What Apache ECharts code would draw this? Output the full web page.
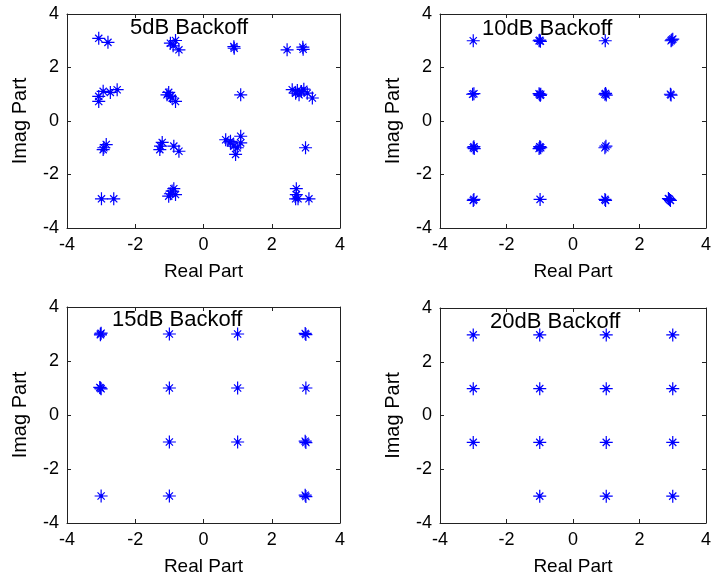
<!DOCTYPE html>
<html>
<head>
<meta charset="utf-8">
<script src="https://cdn.jsdelivr.net/npm/echarts@6/dist/echarts.min.js"></script>
<style>
html,body{margin:0;padding:0;background:#fff;}
#chart{width:714px;height:583px;}
</style>
</head>
<body>
<div id="chart"></div>
<script>
// ---- Data ----
const panelTitles = ['5dB Backoff', '10dB Backoff', '15dB Backoff', '20dB Backoff'];
const tickValues = [-4, -2, 0, 2, 4];
const xAxisName = 'Real Part';
const yAxisName = 'Imag Part';

// 5dB backoff (noisy constellation)
const re5 = [-3.07, -2.80, -0.97, -0.82, -0.89, -0.72, 0.89, 0.90, 2.45, 2.91, 2.92,
  -3.07, -3.07, -2.94, -2.73, -2.53, -1.07, -0.97, -1.02, -0.82, -0.92, 1.09,
  2.60, 2.75, 2.94, 2.80, 3.04, 3.19, 2.70, 2.87,
  -2.92, -2.85, -2.94, -1.26, -1.21, -1.28, -0.87, -0.72,
  0.65, 0.79, 1.09, 0.99, 0.94, 0.79, 0.89, 1.09, 2.99,
  -2.99, -2.63, -0.92, -0.87, -1.02, -0.82, -0.97, 2.72, 2.72, 2.70, 3.09, 2.77];
const im5 = [3.09, 2.94, 2.91, 3.01, 2.81, 2.66, 2.78, 2.72, 2.66, 2.76, 2.68,
  0.92, 0.73, 1.11, 1.07, 1.17, 0.98, 0.92, 1.07, 0.73, 0.86, 0.98,
  1.17, 1.14, 1.19, 0.98, 1.04, 0.86, 1.04, 1.10,
  -1.00, -0.88, -1.07, -0.94, -0.80, -1.07, -0.94, -1.13,
  -0.70, -0.76, -0.57, -1.00, -1.25, -0.82, -0.94, -0.82, -1.00,
  -2.91, -2.91, -2.62, -2.53, -2.81, -2.75, -2.72, -2.53, -2.75, -2.91, -2.91, -2.91];

// 10dB backoff
const re10 = [-3.00, -1.02, -0.98, -1.00, 0.97, 2.97, 3.00, 2.95,
  -2.98, -3.02, -1.00, -0.97, -1.02, -0.98, 0.96, 1.00, 0.98, 2.93, 2.95,
  -2.98, -3.00, -2.97, -1.00, -0.97, -1.02, -0.99, 0.96, 0.99,
  -2.98, -3.00, -0.99, 0.96, 0.98, 2.90, 2.93, 2.87];
const im10 = [3.00, 3.00, 2.98, 3.02, 3.00, 3.03, 3.06, 3.00,
  1.02, 1.00, 0.98, 1.00, 1.02, 0.96, 1.00, 0.97, 1.03, 1.00, 0.97,
  -0.96, -1.00, -1.03, -0.96, -1.00, -1.03, -0.98, -1.00, -0.94,
  -2.93, -2.97, -2.93, -2.93, -2.97, -2.93, -2.97, -2.90];

// 15dB backoff
const re15 = [-3.02, -3.00, -3.02, -1.00, 1.00, 2.98, 3.00,
  -3.02, -3.00, -3.04, -1.00, 1.00, 3.00,
  -1.00, 1.00, 2.98, 3.00,
  -3.00, -1.00, 2.98, 3.00];
const im15 = [3.00, 3.03, 2.97, 3.00, 3.00, 3.02, 2.98,
  1.00, 0.97, 1.02, 1.00, 1.00, 1.00,
  -1.00, -1.00, -0.97, -1.02,
  -3.00, -3.00, -2.97, -3.02];

// 20dB backoff
const re20 = [-3, -1, 1, 3, -3, -1, 1, 3, -3, -1, 1, 3, -1, 1, 3];
const im20 = [3, 3, 3, 3, 1, 1, 1, 1, -1, -1, -1, -1, -3, -3, -3];

const panelRe = [re5, re10, re15, re20];
const panelIm = [im5, im10, im15, im20];

// ---- Layout ----
const grids = [
  {left: 67, top: 14, width: 273, height: 214},
  {left: 440, top: 14, width: 272, height: 214},
  {left: 67, top: 307, width: 273, height: 216},
  {left: 440, top: 308, width: 272, height: 215}
];
const titlePos = [
  {left: 130, top: 17},
  {left: 482, top: 18},
  {left: 112, top: 309},
  {left: 490, top: 311}
];

const FONT = 'Arial, "Liberation Sans", sans-serif';
const axisColor = '#222';
const starPath = 'path://M0,-6.5L0,6.5M-6.5,0L6.5,0M-3.6,-3.6L3.6,3.6M-3.6,3.6L3.6,-3.6M-1.2,-1.2L1.2,-1.2L1.2,1.2L-1.2,1.2Z';

const xAxes = [], yAxes = [], series = [], titles = [];
grids.forEach((g, i) => {
  const base = {
    min: tickValues[0], max: tickValues[tickValues.length - 1], interval: 2,
    gridIndex: i,
    axisLine: {show: true, onZero: false, lineStyle: {color: axisColor, width: 1}},
    axisTick: {show: true, inside: true, length: 4, lineStyle: {color: axisColor}},
    splitLine: {show: false}
  };
  xAxes.push(Object.assign({}, base, {
    type: 'value', position: 'bottom',
    name: xAxisName, nameLocation: 'middle', nameGap: 34,
    nameTextStyle: {fontSize: 19, color: '#000', fontFamily: FONT},
    axisLabel: {show: true, margin: 8, fontSize: 18, color: '#000', fontFamily: FONT}
  }));
  xAxes.push(Object.assign({}, base, {
    type: 'value', position: 'top', axisLabel: {show: false}
  }));
  yAxes.push(Object.assign({}, base, {
    type: 'value', position: 'left',
    name: yAxisName, nameLocation: 'middle', nameGap: 37,
    nameTextStyle: {fontSize: 20, color: '#000', fontFamily: FONT},
    axisLabel: {show: true, margin: 8, fontSize: 18, color: '#000', fontFamily: FONT}
  }));
  yAxes.push(Object.assign({}, base, {
    type: 'value', position: 'right', axisLabel: {show: false}
  }));
  const re = panelRe[i], im = panelIm[i];
  series.push({
    type: 'scatter',
    xAxisIndex: 2 * i, yAxisIndex: 2 * i,
    symbol: starPath, symbolSize: 13,
    itemStyle: {color: '#0000ff', borderColor: '#0000ff', borderWidth: 1.2, opacity: 1},
    emphasis: {disabled: true},
    silent: true,
    data: re.map((x, k) => [x, im[k]])
  });
  titles.push({
    text: panelTitles[i], left: titlePos[i].left, top: titlePos[i].top, padding: 0,
    textStyle: {fontSize: 22, fontWeight: 'normal', color: '#000', fontFamily: FONT}
  });
});

const chart = echarts.init(document.getElementById('chart'), null, {renderer: 'canvas'});
chart.setOption({
  animation: false,
  backgroundColor: '#fff',
  title: titles,
  grid: grids,
  xAxis: xAxes,
  yAxis: yAxes,
  series: series
});
</script>
</body>
</html>
